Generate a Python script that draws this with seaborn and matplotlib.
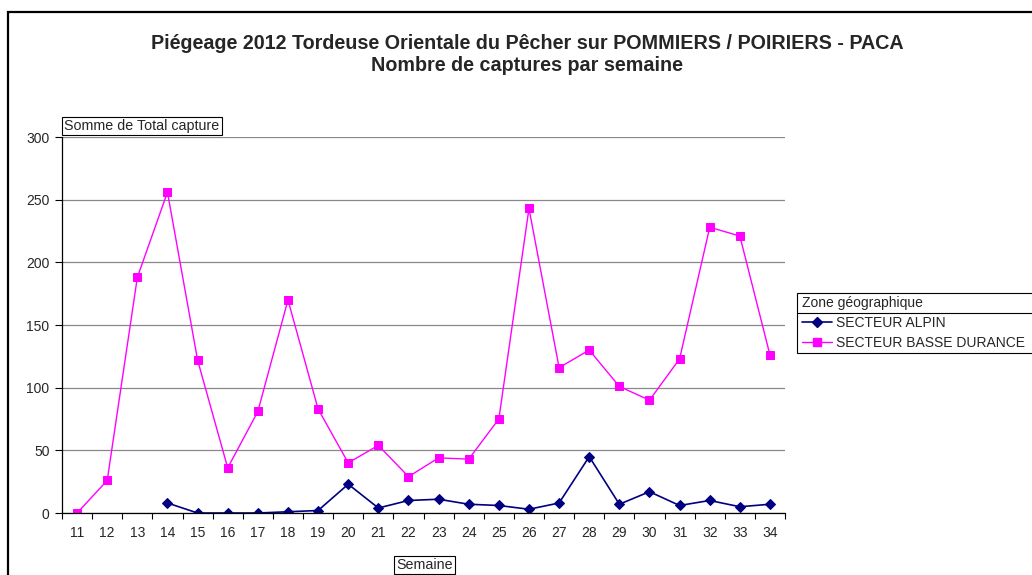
import matplotlib
matplotlib.use("Agg")
import matplotlib.pyplot as plt
import seaborn as sns
import pandas as pd
import numpy as np
from matplotlib.lines import Line2D
from matplotlib.patches import Rectangle

# week numbers
semaines = list(range(11, 35))
# captures per week, NaN where no trapping
alpin = [np.nan, np.nan, np.nan, 8, 0, 0, 0, 1, 2, 23, 4, 10, 11, 7, 6, 3, 8, 45, 7, 17, 6, 10, 5, 7]
basse_durance = [0, 26, 188, 256, 122, 36, 81, 170, 83, 40, 54, 29, 44, 43, 75, 243, 116, 130, 101, 90, 123, 228, 221, 126]
zones = ["SECTEUR ALPIN", "SECTEUR BASSE DURANCE"]
couleurs = {"SECTEUR ALPIN": "#000080", "SECTEUR BASSE DURANCE": "#FF00FF"}
marqueurs = {"SECTEUR ALPIN": "D", "SECTEUR BASSE DURANCE": "s"}
tailles = {"SECTEUR ALPIN": 5.0, "SECTEUR BASSE DURANCE": 6.0}
epaisseurs = {"SECTEUR ALPIN": 1.2, "SECTEUR BASSE DURANCE": 1.0}

df = pd.DataFrame({
    "Semaine": semaines * 2,
    "Captures": alpin + basse_durance,
    "Zone": [zones[0]] * len(semaines) + [zones[1]] * len(semaines),
})

sns.set_style("white")
plt.rcParams["font.family"] = ["Liberation Sans", "DejaVu Sans"]

fig = plt.figure(figsize=(10.32, 5.75), dpi=100)
ax = fig.add_axes([0.0601, 0.1078, 0.7006, 0.6539])

for zone in zones:
    sub = df[df["Zone"] == zone]
    sns.lineplot(data=sub, x="Semaine", y="Captures", ax=ax, color=couleurs[zone],
                 marker=marqueurs[zone], markersize=tailles[zone],
                 markeredgecolor=couleurs[zone], linewidth=epaisseurs[zone], legend=False)

ax.set_xlim(10.5, 34.5)
ax.set_ylim(0, 300)
ax.set_yticks(range(0, 301, 50))
ax.set_xticks(semaines)
ax.set_xticks(np.arange(10.5, 35, 1), minor=True)
ax.tick_params(axis="x", which="major", length=0, labelsize=10, pad=9)
ax.tick_params(axis="x", which="minor", length=4, direction="out", color="black", width=0.8, bottom=True)
ax.tick_params(axis="y", length=5, direction="out", color="black", width=0.8, labelsize=10, left=True, pad=4)
ax.yaxis.grid(True, color="#888888", linewidth=0.9)
ax.set_axisbelow(True)
for s in ["top", "right"]:
    ax.spines[s].set_visible(False)
for s in ["left", "bottom"]:
    ax.spines[s].set_color("black")
    ax.spines[s].set_linewidth(0.9)
ax.set_xlabel("")
ax.set_ylabel("")

fig.text(0.511, 0.905, "Piégeage 2012 Tordeuse Orientale du Pêcher sur POMMIERS / POIRIERS - PACA\nNombre de captures par semaine",
         ha="center", va="center", fontsize=14.2, fontweight="bold", linespacing=1.2)

boite = dict(facecolor="white", edgecolor="black", linewidth=0.8, boxstyle="square,pad=0.15")
fig.text(0.0625, 0.781, "Somme de Total capture", ha="left", va="center", fontsize=10.3, bbox=boite)
fig.text(0.411, 0.0174, "Semaine", ha="center", va="center", fontsize=10.3, bbox=boite)

# legend box (cut by the right edge as in the original)
fig.add_artist(Rectangle((0.7723, 0.3861), 0.3, 0.1043, facecolor="white", edgecolor="black",
                         linewidth=0.8, transform=fig.transFigure, zorder=4))
fig.add_artist(Line2D([0.7723, 1.0], [0.4557, 0.4557], color="black", linewidth=0.8,
                      transform=fig.transFigure, zorder=5))
handles = [Line2D([], [], color=couleurs[z], marker=marqueurs[z], markersize=tailles[z],
                  linewidth=epaisseurs[z]) for z in zones]
leg = fig.legend(handles, zones, title="Zone géographique", loc="upper left",
                 bbox_to_anchor=(0.7733, 0.4904), borderaxespad=0, frameon=False,
                 fontsize=10, title_fontsize=10, alignment="left",
                 handlelength=2.2, handletextpad=0.25, borderpad=0.25, labelspacing=0.4)
leg.set_zorder(6)

# outer frame of the chart area
fig.add_artist(Rectangle((0.0078, -0.1), 1.2, 1.079, fill=False, edgecolor="black",
                         linewidth=1.6, transform=fig.transFigure))

fig.savefig("out.png", dpi=100)
